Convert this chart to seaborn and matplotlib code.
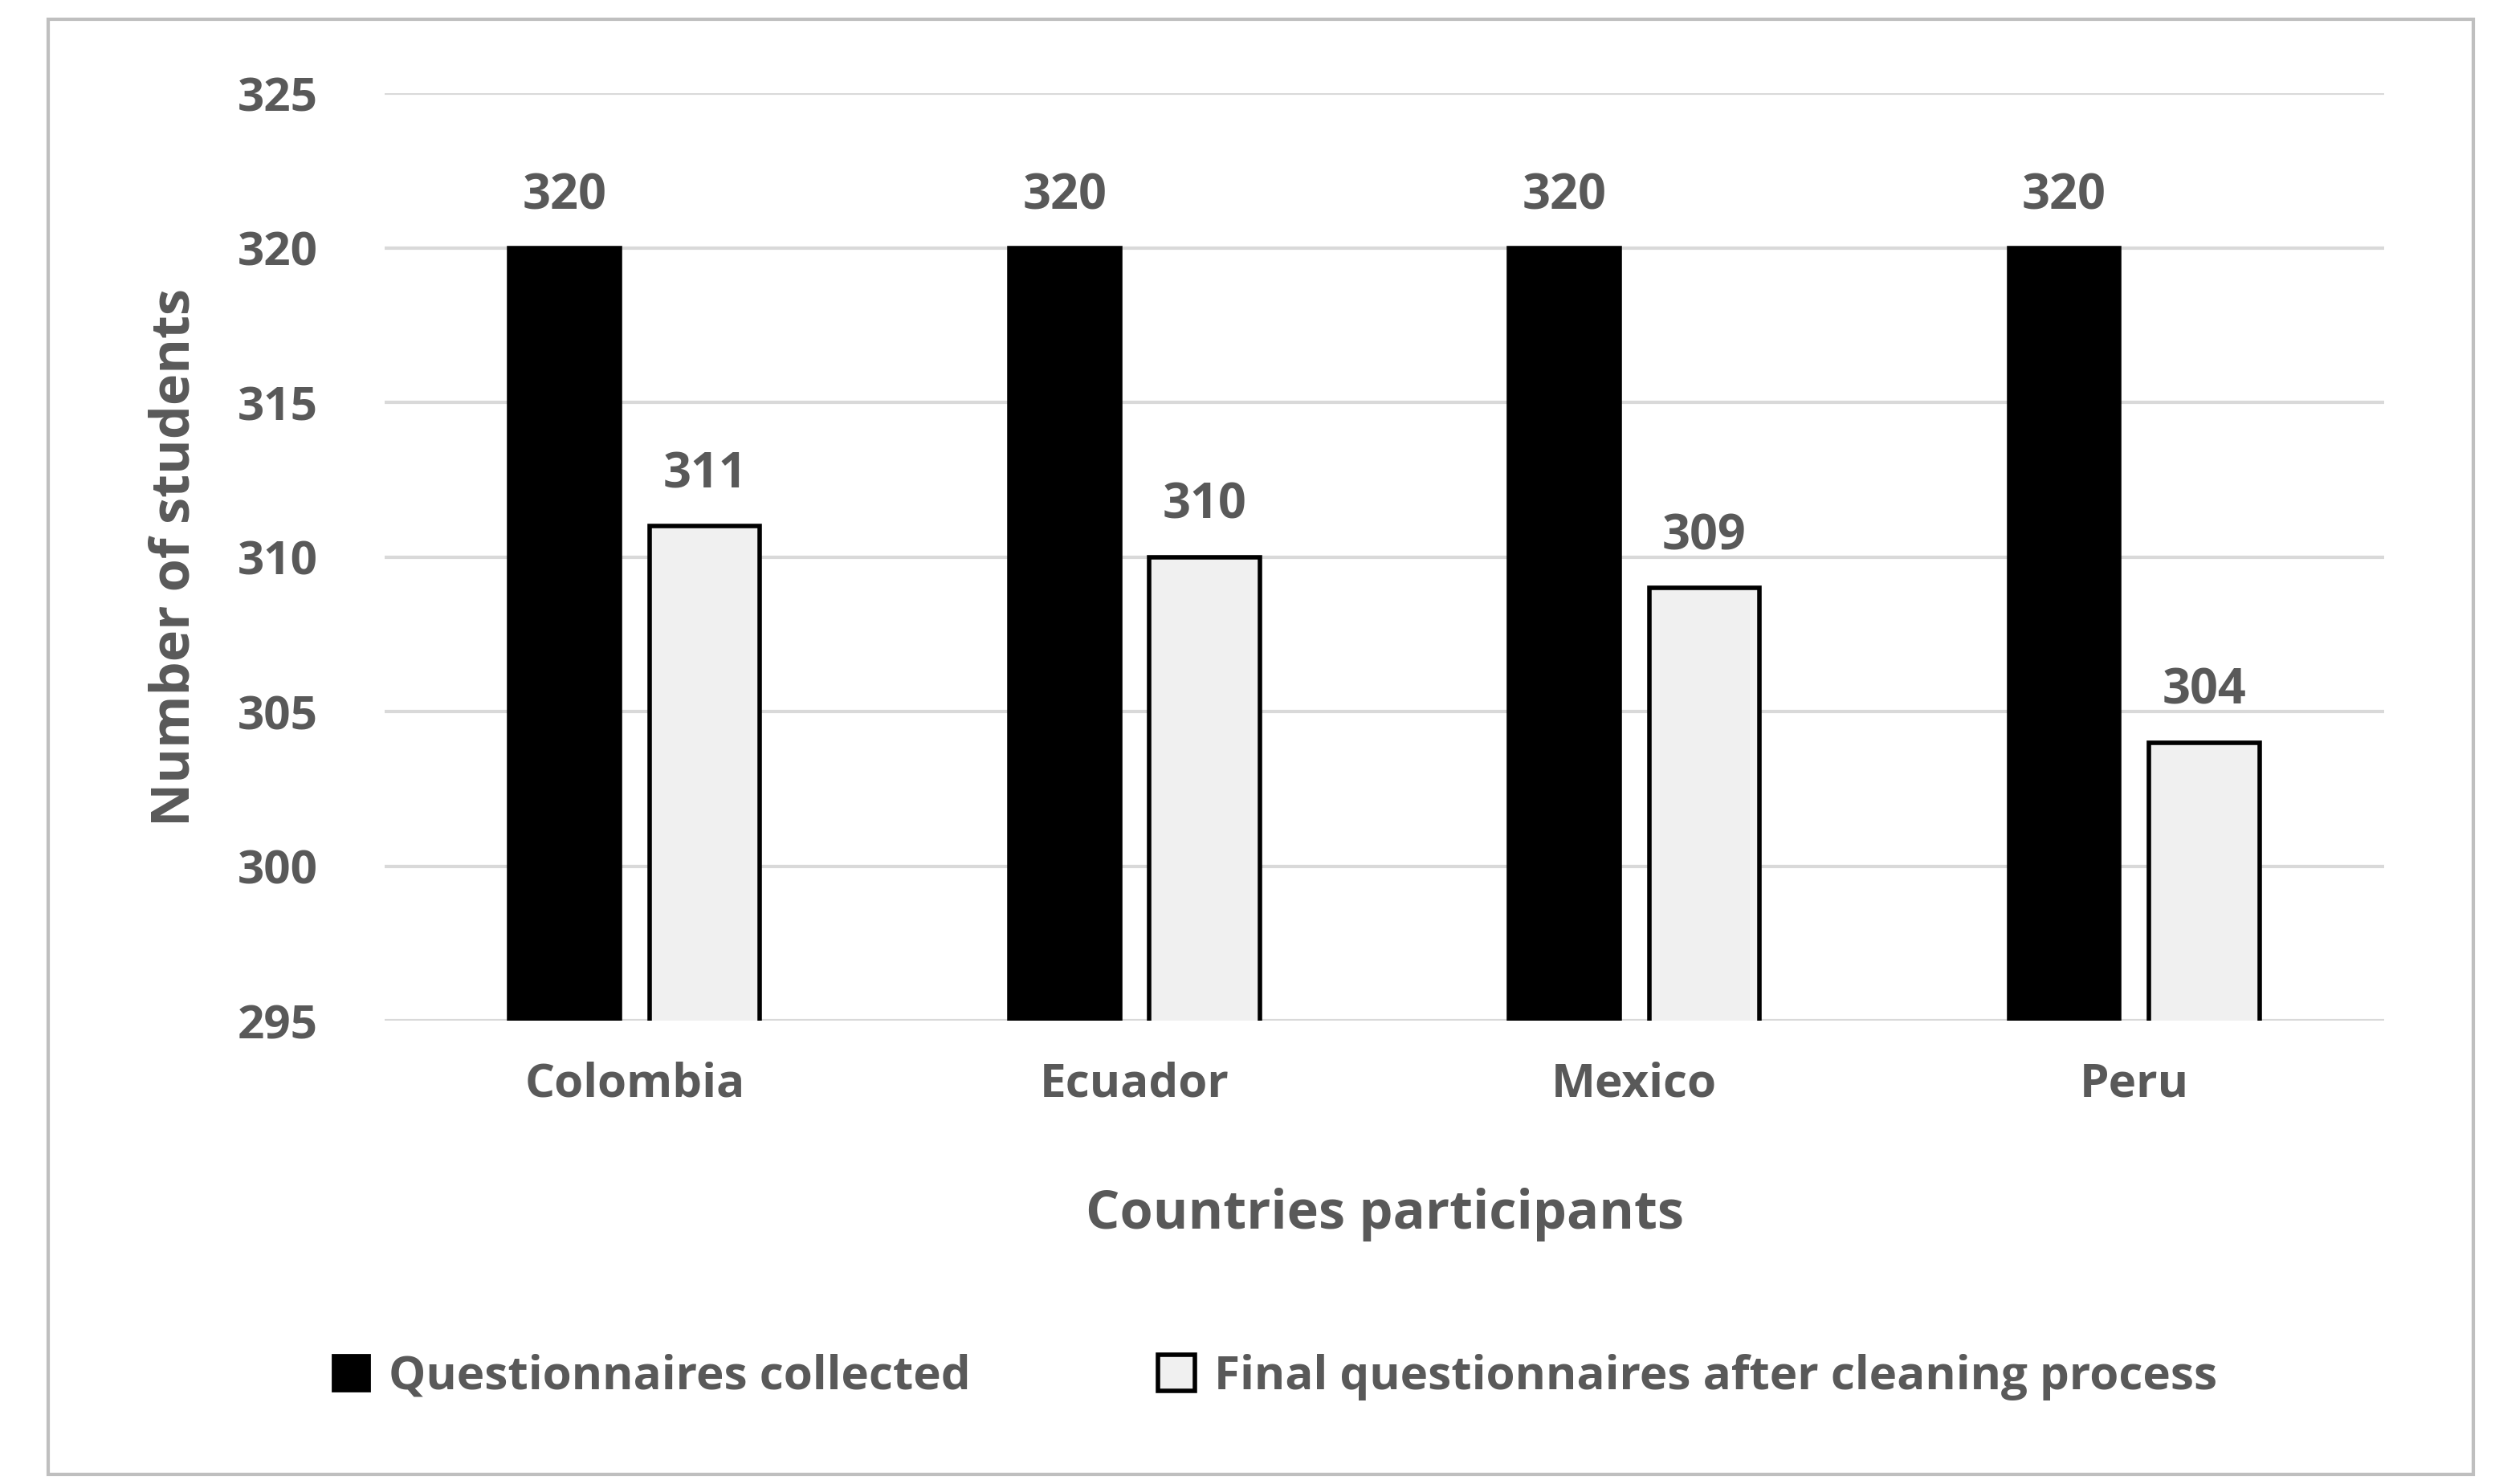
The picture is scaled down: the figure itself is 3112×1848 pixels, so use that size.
import pandas as pd
import matplotlib.pyplot as plt
import seaborn as sns
from matplotlib.patches import Rectangle, Patch

countries = ["Colombia", "Ecuador", "Mexico", "Peru"]
collected = [320, 320, 320, 320]
final = [311, 310, 309, 304]
series_names = ["Questionnaires collected", "Final questionnaires after cleaning process"]

df = pd.DataFrame({
    "Country": countries * 2,
    "Series": [series_names[0]] * 4 + [series_names[1]] * 4,
    "Value": collected + final,
})

sns.set_style("white")
plt.rcParams['font.family'] = ['Open Sans', 'DejaVu Sans']
plt.rcParams['font.weight'] = 'bold'
grey = "#595959"

fig = plt.figure(figsize=(15.56, 9.24), dpi=200)
ax = fig.add_axes([0.154, 0.312, 0.80, 0.625])
sns.barplot(data=df, x="Country", y="Value", hue="Series", ax=ax,
            palette=["black", "#f0f0f0"], width=0.56, gap=0.21,
            edgecolor="black", linewidth=2, bottom=0, legend=False)

ax.set_ylim(295, 325)
ax.set_yticks(range(295, 326, 5))
ax.yaxis.grid(True, color="#d9d9d9", linewidth=1.5)
ax.set_axisbelow(True)
for s in ax.spines.values():
    s.set_visible(False)
ax.tick_params(axis="both", length=0, labelsize=21, labelcolor=grey)
ax.tick_params(axis="y", pad=30)
ax.tick_params(axis="x", pad=18)
for lbl in ax.get_xticklabels() + ax.get_yticklabels():
    lbl.set_fontweight("bold")
ax.set_xlabel("Countries participants", fontsize=24, color=grey, fontweight="bold", labelpad=36)
ax.set_ylabel("Number of students", fontsize=24, color=grey, fontweight="bold", labelpad=16)

for cont in ax.containers:
    ax.bar_label(cont, padding=12, fontsize=22, color=grey, fontweight="bold")

handles = [Patch(facecolor="black", edgecolor="black"),
           Patch(facecolor="#f0f0f0", edgecolor="black", linewidth=2)]
fig.legend(handles, series_names, loc="center", bbox_to_anchor=(0.51, 0.072), ncol=2,
           frameon=False, labelcolor=grey, handlelength=0.8, handleheight=0.8,
           columnspacing=4, handletextpad=0.4, prop={"weight": "bold", "size": 21})

fig.patches.append(Rectangle((30 / 1556, 1 - 918 / 924), 1510 / 1556, 906 / 924,
                             transform=fig.transFigure, fill=False, edgecolor="#bfbfbf", linewidth=1.5))
fig.savefig("out.png", dpi=200)
